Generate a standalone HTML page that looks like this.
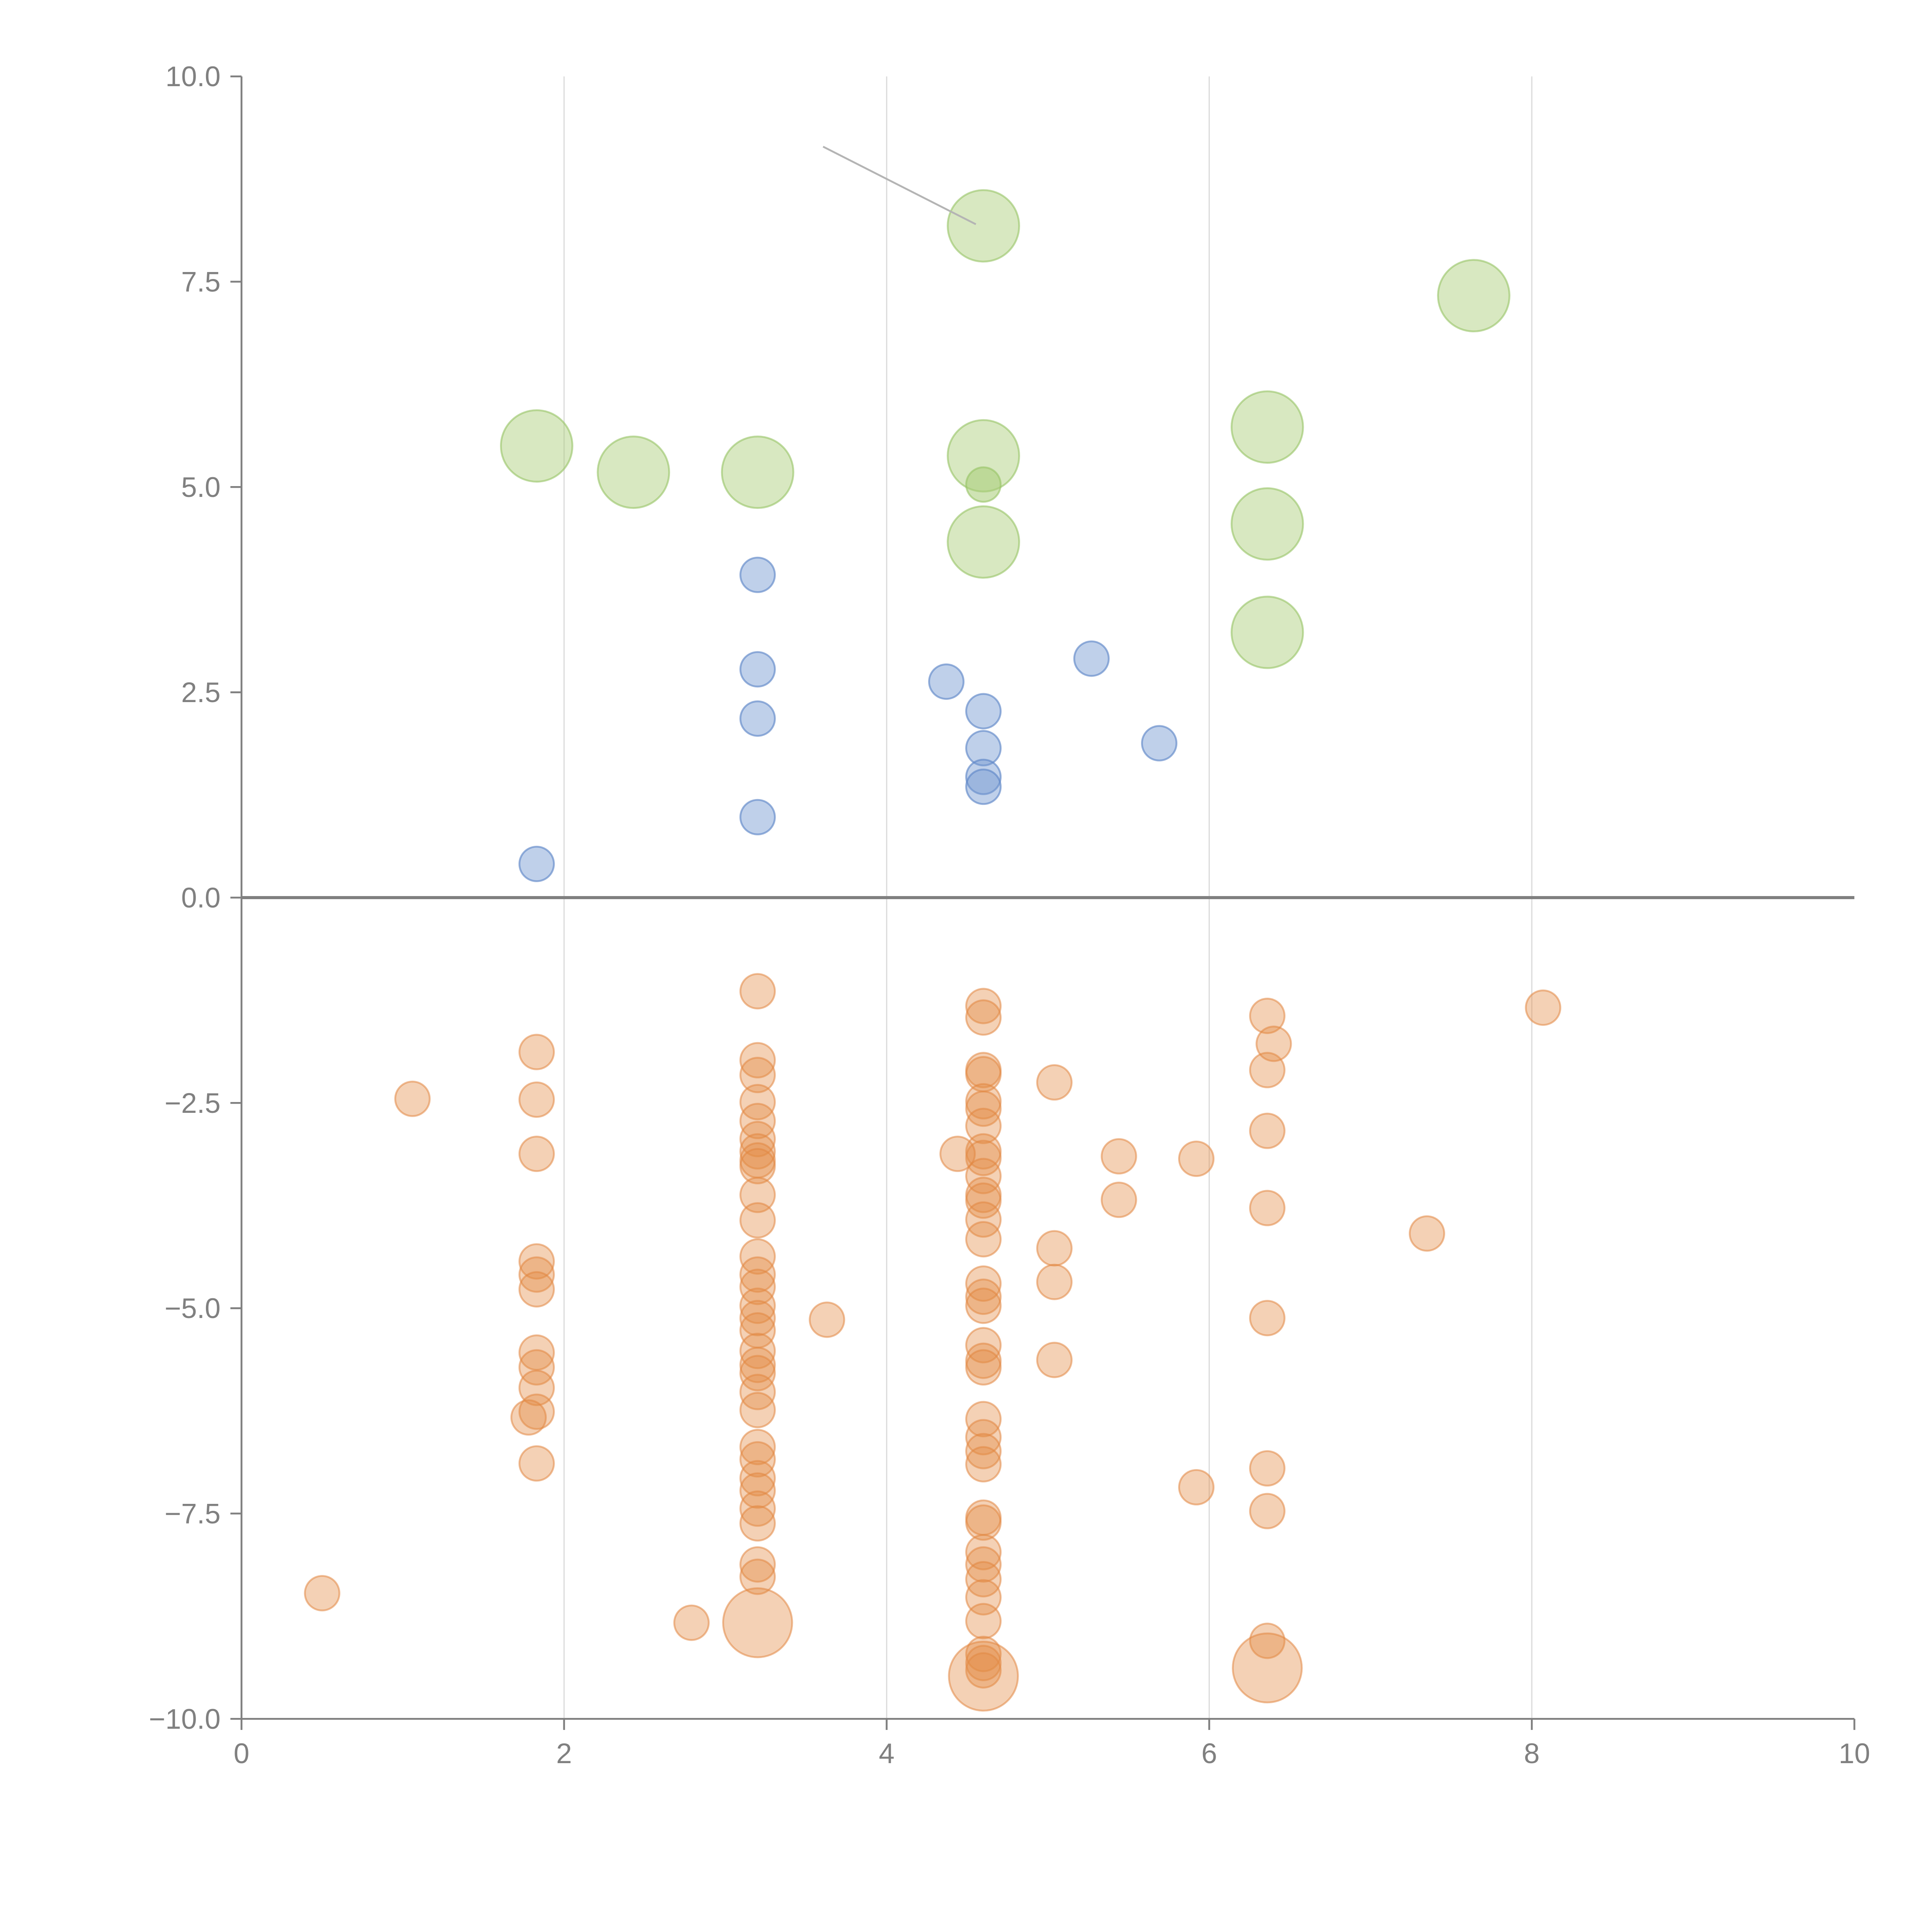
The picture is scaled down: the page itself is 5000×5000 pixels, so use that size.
<!DOCTYPE html>
<html><head><meta charset="utf-8"><style>html,body{margin:0;padding:0;background:#fff}svg{display:block}text{font-family:"Liberation Sans",sans-serif;fill:#808080}</style></head>
<body>
<svg id="chart" width="5000" height="5000" viewBox="0 0 1568 1568" xmlns="http://www.w3.org/2000/svg">
<g id="grid"></g>
<g id="marks"></g>
<g id="axes"></g>
</svg>
<script>
const xTicks=[0,2,4,6,8,10];
const yTicks=[10,7.5,5,2.5,0,-2.5,-5,-7.5,-10];
const yTickLabels=["10.0","7.5","5.0","2.5","0.0","\u22122.5","\u22125.0","\u22127.5","\u221210.0"];
const greenX=[1.83,2.43,3.2,4.6,4.6,4.6,6.36,6.36,6.36,7.64];
const greenY=[5.5,5.18,5.18,8.18,5.38,4.33,5.73,4.55,3.23,7.33];
const greenSmallX=[4.6];
const greenSmallY=[5.03];
const blueX=[3.2,3.2,3.2,3.2,1.83,4.37,4.6,4.6,4.6,4.6,5.27,5.69];
const blueY=[3.93,2.78,2.18,0.98,0.41,2.63,2.27,1.82,1.47,1.35,2.91,1.88];
const orangeX=[3.2,3.2,3.2,3.2,3.2,3.2,3.2,3.2,3.2,3.2,3.2,3.2,3.2,3.2,3.2,3.2,3.2,3.2,3.2,3.2,3.2,3.2,3.2,3.2,3.2,3.2,3.2,3.2,3.2,3.2,
1.83,1.83,1.83,1.83,1.83,1.83,1.83,1.83,1.83,1.83,1.83,1.78,
4.6,4.6,4.6,4.6,4.6,4.6,4.6,4.6,4.6,4.6,4.6,4.6,4.6,4.6,4.6,4.6,4.6,4.6,4.6,4.6,4.6,4.6,4.6,4.6,4.6,4.6,4.6,4.6,4.6,4.6,4.6,4.6,4.6,4.6,4.44,
0.5,1.06,2.79,3.63,5.04,5.04,5.04,5.04,5.44,5.44,5.92,5.92,
6.36,6.36,6.36,6.36,6.36,6.36,6.36,6.36,6.4,7.35,8.07];
const orangeY=[-1.14,-1.98,-2.16,-2.49,-2.72,-2.94,-3.09,-3.2,-3.27,-3.62,-3.93,-4.37,-4.59,-4.74,-4.97,-5.12,-5.27,-5.52,-5.69,-5.79,-6.02,-6.24,-6.69,-6.84,-7.07,-7.22,-7.44,-7.62,-8.12,-8.27,
-1.88,-2.46,-3.12,-4.43,-4.59,-4.77,-5.54,-5.72,-5.97,-6.26,-6.89,-6.33,
-1.32,-1.46,-2.1,-2.15,-2.48,-2.57,-2.78,-3.09,-3.17,-3.39,-3.62,-3.69,-3.92,-4.16,-4.7,-4.86,-4.97,-5.45,-5.64,-5.72,-6.35,-6.57,-6.74,-6.9,-7.55,-7.61,-7.97,-8.12,-8.3,-8.52,-8.81,-9.21,-9.32,-9.41,-3.12,
-8.47,-2.45,-8.83,-5.14,-2.25,-4.27,-4.68,-5.63,-3.15,-3.68,-3.18,-7.18,
-1.44,-2.1,-2.84,-3.78,-5.12,-6.95,-7.47,-9.05,-1.78,-4.09,-1.34];
const orangeBigX=[3.2,4.6,6.36];
const orangeBigY=[-8.83,-9.48,-9.38];

const NS="http://www.w3.org/2000/svg";
const X0=196,X1=1505,Y0=1395,Y1=62;
function sx(v){return X0+(v-0)/(10-0)*(X1-X0);}
function sy(v){return Y0-(v+10)/20*(Y0-Y1);}
function mk(tag,attrs,parent){const e=document.createElementNS(NS,tag);for(const k in attrs)e.setAttribute(k,attrs[k]);parent.appendChild(e);return e;}
const grid=document.getElementById('grid'),marks=document.getElementById('marks'),axes=document.getElementById('axes');
xTicks.forEach(t=>{if(t>0&&t<10){const l=mk('line',{x1:sx(t),x2:sx(t),y1:Y1,y2:Y0,stroke:'#dcdcdc','stroke-width':1},grid);

}});
function drawSeries(xs,ys,r,fill,stroke,name){
 xs.forEach((x,i)=>{const c=mk('circle',{cx:sx(x),cy:sy(ys[i]),r:r,fill:fill,stroke:stroke,'stroke-width':1.5},marks);
 
 });
}
drawSeries(greenX,greenY,29,'rgba(168,204,118,0.45)','rgba(150,195,100,0.6)','green-bubble');
drawSeries(greenSmallX,greenSmallY,14,'rgba(168,204,118,0.55)','rgba(150,195,100,0.6)','green-bubble-small');
drawSeries(blueX,blueY,14,'rgba(112,150,208,0.45)','rgba(95,135,200,0.65)','blue-bubble');
drawSeries(orangeX,orangeY,14,'rgba(228,140,70,0.4)','rgba(225,135,65,0.55)','orange-bubble');
drawSeries(orangeBigX,orangeBigY,28,'rgba(228,140,70,0.4)','rgba(225,135,65,0.55)','orange-bubble-large');
const an=mk('line',{x1:668,y1:119,x2:792,y2:182,stroke:'#b4b4b4','stroke-width':1.5},axes);


const z=mk('line',{x1:X0,x2:X1,y1:sy(0),y2:sy(0),stroke:'#808080','stroke-width':2.5},axes);


const ya=mk('line',{x1:X0,x2:X0,y1:Y1,y2:Y0,stroke:'#808080','stroke-width':1.5},axes);


const xa=mk('line',{x1:X0,x2:X1,y1:Y0,y2:Y0,stroke:'#808080','stroke-width':1.5},axes);


yTicks.forEach((t,i)=>{const tk=mk('line',{x1:X0-9,x2:X0,y1:sy(t),y2:sy(t),stroke:'#808080','stroke-width':1.5},axes);


const tx=mk('text',{x:X0-17,y:sy(t)+8,'text-anchor':'end','font-size':23},axes);tx.textContent=yTickLabels[i];

});
xTicks.forEach(t=>{const tk=mk('line',{x1:sx(t),x2:sx(t),y1:Y0,y2:Y0+9,stroke:'#808080','stroke-width':1.5},axes);


const tx=mk('text',{x:sx(t),y:Y0+36,'text-anchor':'middle','font-size':23},axes);tx.textContent=String(t);

});
</script>
</body></html>
